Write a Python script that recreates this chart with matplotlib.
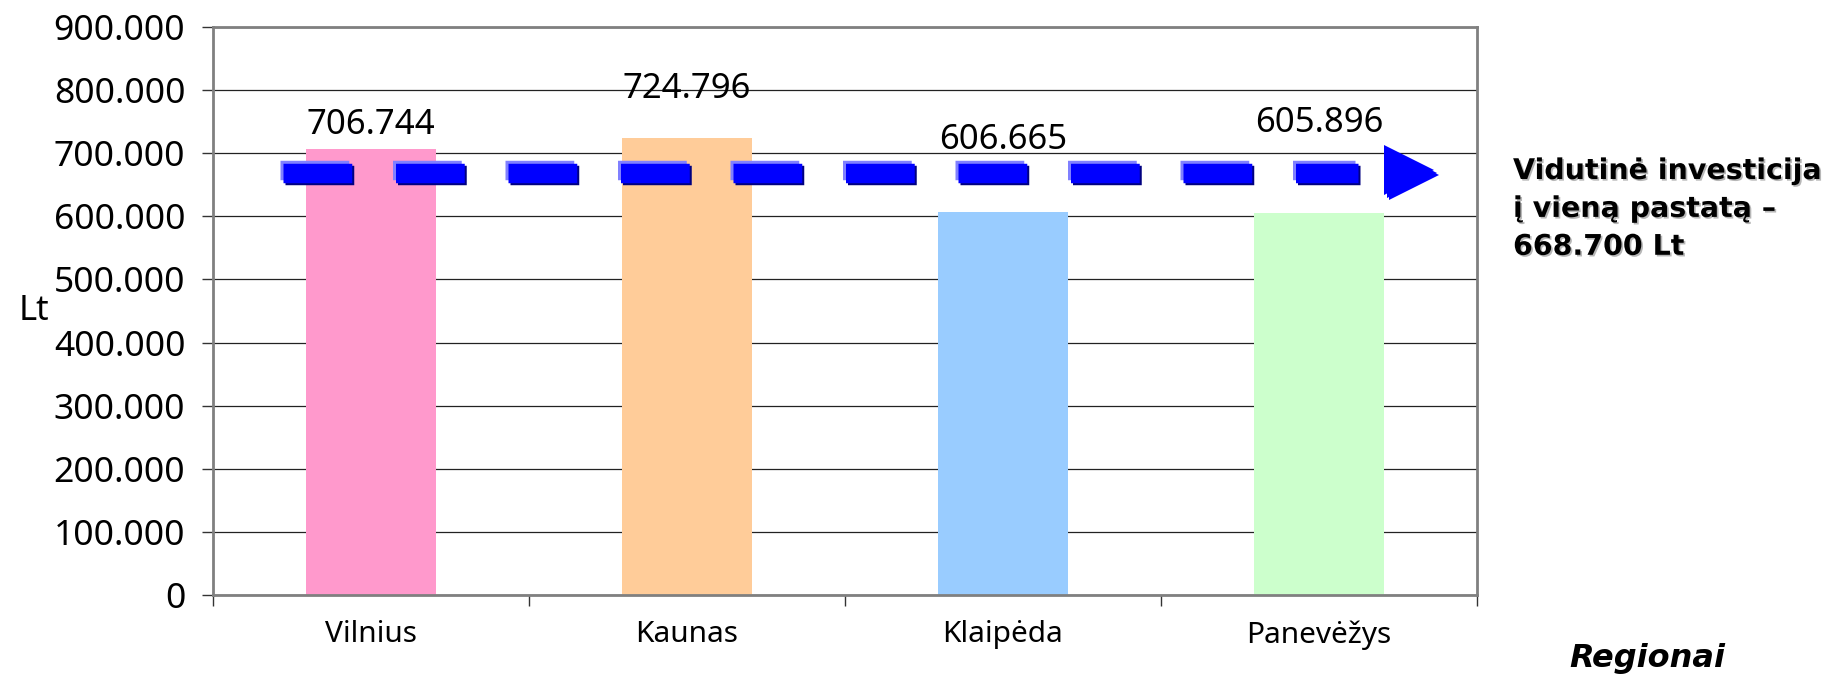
import matplotlib

matplotlib.use("Agg")

import matplotlib.pyplot as plt
import matplotlib.patheffects as pe
from matplotlib.ticker import FuncFormatter, MultipleLocator


# --------------------------------------------------
# 1. DATA
# --------------------------------------------------

regions = ["Vilnius", "Kaunas", "Klaipėda", "Panevėžys"]
investment = [706744, 724796, 606665, 605896]
bar_colors = ["#FF99CC", "#FFCC99", "#99CCFF", "#CCFFCC"]
average = 668700
average_text = "Vidutinė investicija\nį vieną pastatą –\n668.700 Lt"

# label lift above each bar top, in pixels (labels were moved by hand)
label_lift = [24, 49, 72, 90]


def lt_format(value, pos=None):
    return f"{value:,.0f}".replace(",", ".")


# --------------------------------------------------
# 2. FIGURE AND AXES
# --------------------------------------------------

plt.rcParams["font.family"] = ["Noto Sans", "DejaVu Sans"]
plt.rcParams["lines.scale_dashes"] = False

fig = plt.figure(figsize=(18.27, 6.78), dpi=100)
ax = fig.add_axes([0.1166, 0.1224, 0.6918, 0.8378])

x = list(range(len(regions)))

ax.bar(x, investment, width=0.41, color=bar_colors, zorder=2)

ax.set_xlim(-0.5, len(regions) - 0.5)
ax.set_ylim(0, 900000)

ax.yaxis.set_major_locator(MultipleLocator(100000))
ax.yaxis.set_major_formatter(FuncFormatter(lt_format))
ax.grid(axis="y", color="#222222", linewidth=0.9, zorder=0)

for side in ["left", "bottom", "right", "top"]:
    ax.spines[side].set_color("#808080")
    ax.spines[side].set_linewidth(2)

ax.tick_params(axis="y", labelsize=25.5, length=8, width=1,
               color="#333333", pad=12)

# category boundaries as ticks, names centred between them
ax.set_xticks([i - 0.5 for i in range(len(regions) + 1)])
ax.set_xticklabels([])
ax.tick_params(axis="x", which="major", length=8, width=1,
               color="#333333")
ax.set_xticks(x, minor=True)
ax.set_xticklabels(regions, minor=True, fontsize=21.5)
ax.tick_params(axis="x", which="minor", length=0, pad=18)

ax.set_ylabel("Lt", rotation=0, fontsize=25, va="center", ha="center")
ax.yaxis.set_label_coords(-0.1416, 0.5)


# --------------------------------------------------
# 3. VALUE LABELS
# --------------------------------------------------

for xi, val, lift in zip(x, investment, label_lift):
    ax.annotate(
        lt_format(val),
        xy=(xi, val),
        xytext=(0, lift * 0.72),
        textcoords="offset points",
        ha="center",
        va="center",
        fontsize=25,
        zorder=4,
    )


# --------------------------------------------------
# 4. AVERAGE LINE WITH ARROW
# --------------------------------------------------

effects = [
    pe.Stroke(offset=(-2, 2), foreground="#8080FF"),
    pe.Stroke(offset=(1.5, -1.5), foreground="#000080"),
    pe.Normal(),
]

ax.plot(
    [-0.278, 3.123],
    [average, average],
    color="#0000FF",
    linewidth=14,
    dashes=(49.5, 31.5),
    solid_capstyle="butt",
    dash_capstyle="butt",
    path_effects=effects,
    zorder=3,
)

ax.plot(
    [3.293],
    [average],
    marker=">",
    markersize=36,
    color="#0000FF",
    markeredgewidth=0,
    path_effects=effects,
    zorder=3,
)


# --------------------------------------------------
# 5. SIDE TEXTS (bold faces from DejaVu Sans)
# --------------------------------------------------

fig.text(
    1513 / 1827,
    1 - 157 / 678,
    average_text,
    family="DejaVu Sans",
    fontsize=20.5,
    fontweight="bold",
    ha="left",
    va="top",
    linespacing=1.45,
    path_effects=[pe.withSimplePatchShadow(offset=(1.2, -1.2),
                                           shadow_rgbFace="#888888",
                                           alpha=0.6)],
)

fig.text(
    1647 / 1827,
    1 - 659 / 678,
    "Regionai",
    family="DejaVu Sans",
    fontsize=23,
    fontweight="bold",
    fontstyle="italic",
    ha="center",
    va="center",
)

fig.savefig("out.png", dpi=100)
